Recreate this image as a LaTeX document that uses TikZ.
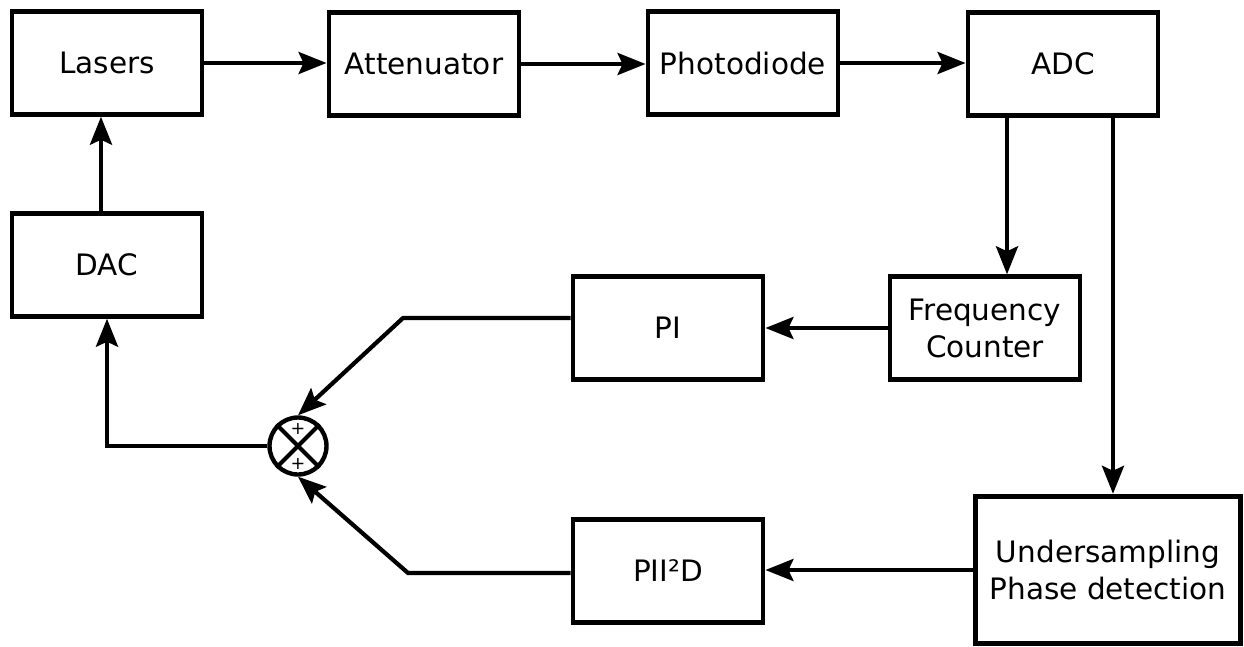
\documentclass[tikz,border=0pt]{standalone}
\usepackage{fontspec}
\setmainfont{DejaVu Sans}
\usetikzlibrary{positioning, arrows.meta, calc}

\begin{document}
\begin{tikzpicture}[
x=0.02cm, y=-0.02cm,
    block/.style={rectangle, draw, line width=2.8pt, minimum width=3.8cm, minimum height=2.05cm, align=center, font=\fontsize{16.8}{21}\selectfont},
    sumnode/.style={circle, draw, line width=2.5pt, minimum size=1.14cm, inner sep=0pt},
    plus/.style={inner sep=0pt, font=\fontsize{10}{10}\selectfont},
    line/.style={draw, line width=2.4pt},
    arrow/.style={line, -{Stealth[length=0.56cm, width=0.44cm, inset=0.1cm]}}
]
    \useasboundingbox (0,0) rectangle (1244,646);

    % Top row
    \node[block] (lasers) at (107,63) {Lasers};
    \node[block] (atten) at (424,64) {Attenuator};
    \node[block] (photo) at (743,63) {Photodiode};
    \node[block] (adc) at (1063,64) {ADC};

    % Left column
    \node[block] (dac) at (107,265) {DAC};

    % Controllers
    \node[block] (pi) at (668,328) {PI};
    \node[block] (freq) at (985,328) {Frequency\\Counter};
    \node[block] (pii) at (668,571) {PII²D};
    \node[block, minimum width=5.3cm, minimum height=2.95cm] (under) at (1108,570) {Undersampling\\Phase detection};

    % Summing junction
    \node[sumnode] (sum) at (298,446) {};
    \draw[line] (sum.north west) -- (sum.south east);
    \draw[line] (sum.north east) -- (sum.south west);
    \node[plus] (plusa) at (298,429) {+};
    \node[plus] (plusb) at (298,464) {+};

    % Forward path
    \draw[arrow] (lasers.east) -- (lasers.east -| atten.west);
    \draw[arrow] (atten.east) -- (atten.east -| photo.west);
    \draw[arrow] (photo.east) -- (photo.east -| adc.west);

    % ADC outputs
    \draw[arrow] ([xshift=-1.12cm]adc.south) -- ([xshift=-1.12cm]adc.south |- freq.north);
    \draw[arrow] ([xshift=1cm]adc.south) -- ([xshift=1cm]adc.south |- under.north);

    % Feedback
    \draw[arrow] (freq.west) -- (pi.east);
    \draw[arrow] (under.west) -- (under.west -| pii.east);
    \coordinate (pibend) at (403,318);
    \coordinate (piibend) at (408,573);
    \draw[arrow] ([yshift=0.2cm]pi.west) -- (pibend) -- (sum.north);
    \draw[arrow] ([yshift=-0.04cm]pii.west) -- (piibend) -- (sum.south);
    \draw[arrow] (sum.west) -| (dac.south);
    \draw[arrow] ([xshift=-0.12cm]dac.north) -- ([xshift=-0.12cm]lasers.south);

\end{tikzpicture}
\end{document}
